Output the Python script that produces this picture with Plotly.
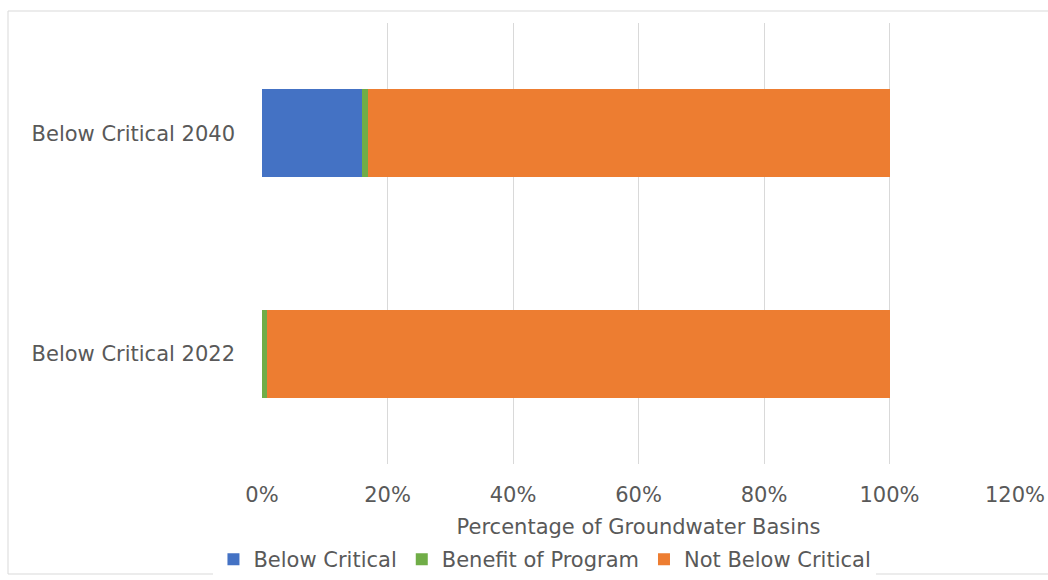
import plotly.graph_objects as go

categories = ["Below Critical 2022", "Below Critical 2040"]
below_critical = [0.0, 16.0]
benefit_of_program = [0.8, 0.9]
not_below_critical = [99.2, 83.1]

series_names = ["Below Critical", "Benefit of Program", "Not Below Critical"]
series_colors = ["#4472C4", "#70AD47", "#ED7D31"]
tick_values = [0, 20, 40, 60, 80, 100, 120]
tick_labels = ["0%", "20%", "40%", "60%", "80%", "100%", "120%"]

text_color = "#595959"
font_family = "DejaVu Sans, Verdana, sans-serif"
font_size = 21

fig = go.Figure()
for name, values, color in zip(series_names,
                               [below_critical, benefit_of_program, not_below_critical],
                               series_colors):
    fig.add_trace(go.Bar(
        y=categories, x=values, name=name, orientation="h",
        marker=dict(color=color, line=dict(width=0)),
    ))

W, H = 1048, 580
ml, mr, mt, mb = 262, 33, 23, 116

fig.update_layout(
    width=W, height=H,
    barmode="stack", bargap=0.6,
    margin=dict(l=ml, r=mr, t=mt, b=mb, autoexpand=False),
    paper_bgcolor="white", plot_bgcolor="white",
    font=dict(family=font_family, size=font_size, color=text_color),
    xaxis=dict(
        range=[0, 120], tickvals=tick_values, ticktext=tick_labels,
        showgrid=True, gridcolor="#D9D9D9", gridwidth=1,
        zeroline=False, showline=False, ticks="",
        ticklabelstandoff=16,
        tickfont=dict(size=font_size, color=text_color),
        title=dict(text="Percentage of Groundwater Basins",
                   font=dict(size=font_size, color=text_color), standoff=19),
    ),
    yaxis=dict(
        range=[-0.5, 1.5], showgrid=False, zeroline=False, showline=False,
        ticks="", ticklabelstandoff=26,
        tickfont=dict(size=font_size, color=text_color),
    ),
    legend=dict(
        orientation="h", xref="container", yref="container",
        x=0.52, xanchor="center", y=-0.006, yanchor="bottom",
        font=dict(size=font_size, color=text_color),
        traceorder="normal",
    ),
    shapes=[dict(
        type="rect", xref="paper", yref="paper",
        x0=(8 - ml) / (W - ml - mr), x1=(1060 - ml) / (W - ml - mr),
        y0=-(574 - mt - (H - mt - mb)) / (H - mt - mb),
        y1=1 + (mt - 11) / (H - mt - mb),
        line=dict(color="#D9D9D9", width=1), fillcolor="rgba(0,0,0,0)",
        layer="below",
    )],
)

fig.write_html("out.html")
